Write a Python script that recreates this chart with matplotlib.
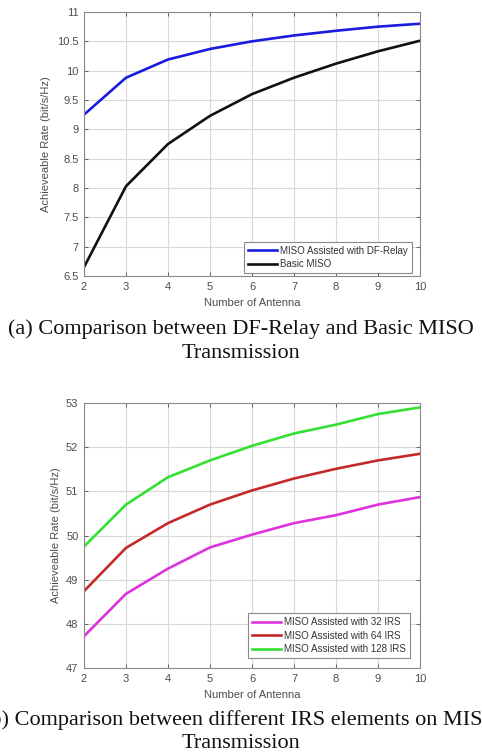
import numpy as np
import matplotlib.pyplot as plt

antennas = [2, 3, 4, 5, 6, 7, 8, 9, 10]

# (a) DF-relay vs basic MISO
relay_rate = [9.25, 9.88, 10.19, 10.37, 10.50, 10.60, 10.68, 10.75, 10.80]
basic_rate = [6.65, 8.03, 8.75, 9.23, 9.60, 9.88, 10.12, 10.33, 10.51]

# (b) different IRS element counts
irs32_rate = [47.72, 48.68, 49.25, 49.73, 50.02, 50.28, 50.46, 50.70, 50.87]
irs64_rate = [48.74, 49.72, 50.28, 50.70, 51.02, 51.29, 51.51, 51.70, 51.85]
irs128_rate = [49.75, 50.70, 51.32, 51.70, 52.03, 52.31, 52.51, 52.75, 52.90]

plt.rcParams['font.family'] = ['Liberation Sans', 'DejaVu Sans']
tick_col = '#4d4d4d'

fig = plt.figure(figsize=(4.82, 7.56), dpi=100)
W, H = 482, 756


def make_axes(top_px, bottom_px):
    return fig.add_axes([84 / W, 1 - bottom_px / H, (420 - 84) / W, (bottom_px - top_px) / H])


def style(ax, yticks, ylim):
    ax.set_xlim(2, 10)
    ax.set_ylim(*ylim)
    ax.set_xticks(antennas)
    ax.set_yticks(yticks)
    ax.set_yticklabels([f'{v:g}' for v in yticks])
    ax.grid(True, color='#d9d9d9', linewidth=0.8)
    ax.set_axisbelow(True)
    ax.tick_params(direction='in', top=True, right=True, labelsize=8,
                   colors=tick_col, length=3, width=0.6, pad=4)
    for s in ax.spines.values():
        s.set_color('#8a8a8a')
        s.set_linewidth(0.8)
    ax.set_xlabel('Number of Antenna', fontsize=8, color=tick_col, labelpad=5)
    ax.set_ylabel('Achieveable Rate (bit/s/Hz)', fontsize=8, color=tick_col, labelpad=4)


def legend(ax, anchor):
    leg = ax.legend(loc='lower right', fontsize=7, fancybox=False, framealpha=1,
                    edgecolor='#8a8a8a', handlelength=3.0, handletextpad=0.3,
                    borderpad=0.4, labelspacing=0.35, borderaxespad=0,
                    bbox_to_anchor=anchor)
    leg.get_frame().set_linewidth(0.8)
    for t in leg.get_texts():
        t.set_color('#333333')


ax1 = make_axes(12, 276)
ax1.plot(antennas, relay_rate, color='#1a1ae0', lw=1.9, label='MISO Assisted with DF-Relay')
ax1.plot(antennas, basic_rate, color='#111111', lw=1.9, label='Basic MISO')
style(ax1, np.arange(6.5, 11.01, 0.5), (6.5, 11))
legend(ax1, (0.976, 0.011))

ax2 = make_axes(403, 668)
ax2.plot(antennas, irs32_rate, color='#dd33dd', lw=1.9, label='MISO Assisted with 32 IRS')
ax2.plot(antennas, irs64_rate, color='#c42a2a', lw=1.9, label='MISO Assisted with 64 IRS')
ax2.plot(antennas, irs128_rate, color='#33e033', lw=1.9, label='MISO Assisted with 128 IRS')
style(ax2, np.arange(47, 53.01, 1), (47, 53))
legend(ax2, (0.970, 0.038))

# captions are wider than the figure in the original, so (b) is clipped at both sides
cap = dict(ha='center', va='center', fontsize=16, family='Liberation Serif', color='#111111')
fig.text(0.5, 1 - 329 / H, '(a) Comparison between DF-Relay and Basic MISO', **cap)
fig.text(0.5, 1 - 353 / H, 'Transmission', **cap)
fig.text(0.5, 1 - 720 / H, '(b) Comparison between different IRS elements on MISO', **cap)
fig.text(0.5, 1 - 744 / H, 'Transmission', **cap)

fig.savefig('out.png', dpi=100)
